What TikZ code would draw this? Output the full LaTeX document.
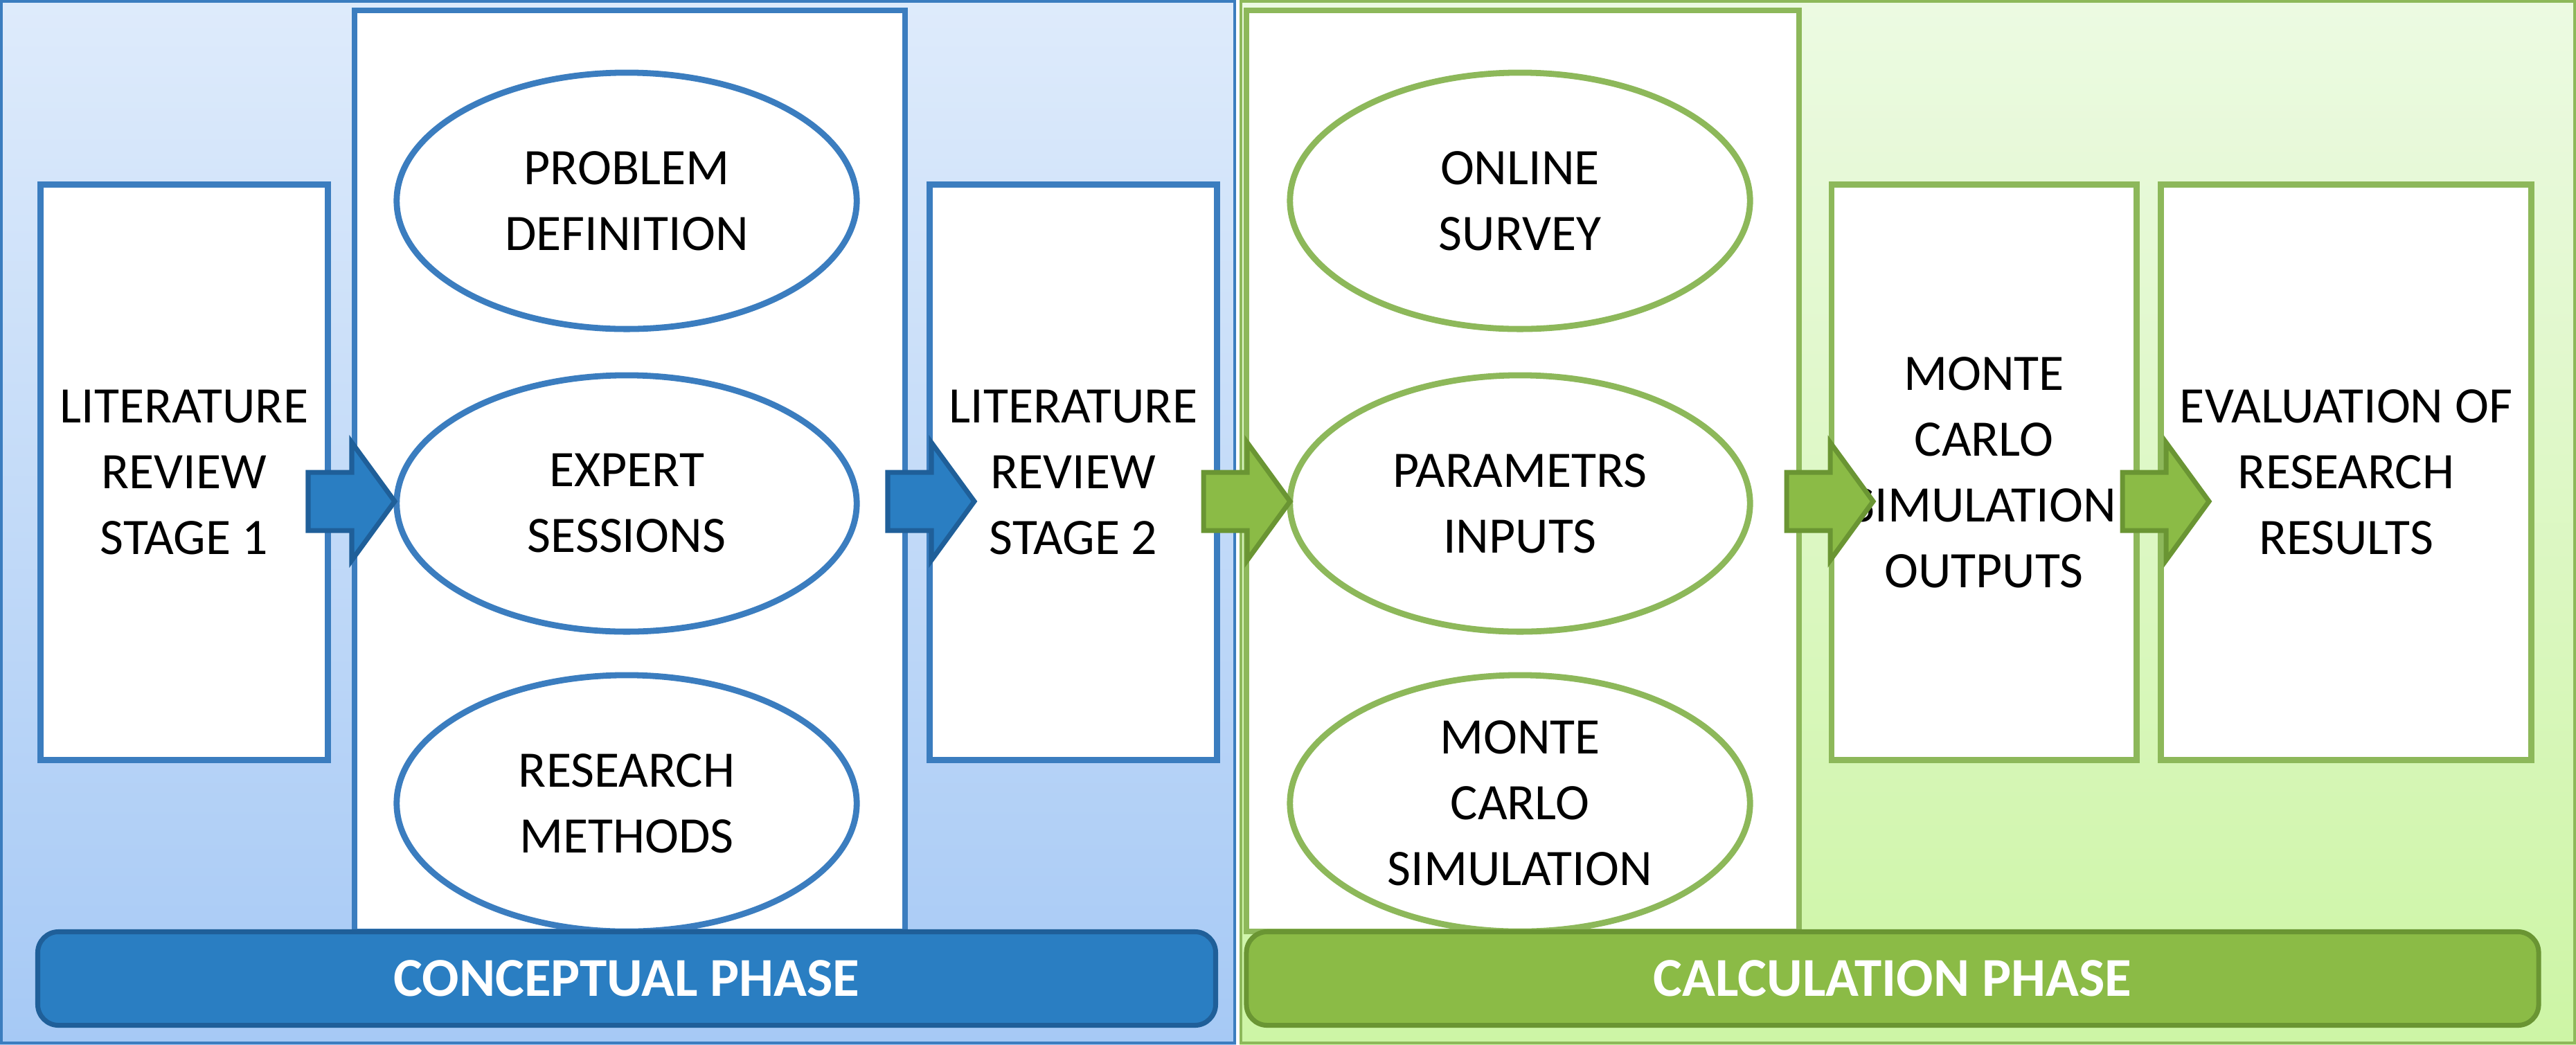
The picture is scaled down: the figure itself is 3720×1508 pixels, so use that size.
\documentclass[tikz,border=0pt]{standalone}
\usepackage{fontspec}
\setmainfont{Carlito}
\usetikzlibrary{shapes.geometric}
\definecolor{bl}{HTML}{3B7DBF}
\definecolor{blf}{HTML}{2A7EC2}
\definecolor{bld}{HTML}{1F5F99}
\definecolor{gr}{HTML}{8DB85A}
\definecolor{grf}{HTML}{8BBB46}
\definecolor{grd}{HTML}{6A9533}
\tikzset{
 txt/.style={font=\fontsize{21}{27}\selectfont,align=center,text=black},
 bbox/.style={txt,draw=bl,line width=2.5pt,fill=white,minimum width=4.15cm,minimum height=8.3cm,inner sep=0pt},
 gbox/.style={bbox,draw=gr},
 bell/.style={txt,ellipse,draw=bl,line width=2.5pt,fill=white,minimum width=6.64cm,minimum height=3.7cm,inner sep=0pt},
 gell/.style={bell,draw=gr},
 bar/.style={rounded corners=0.3cm,line width=2pt,font=\bfseries\fontsize{22.5}{27}\selectfont,text=white,minimum height=1.35cm,inner sep=0pt},
}
% block arrow with tail at coordinate named #1
\newcommand{\blockarrow}[3]{%
  \coordinate (#1) at (#2);
  \draw[#3,line width=2pt] ([shift={(0,-42)}]#1) -- ++(63,0) -- ++(0,-43) -- ([shift={(125,0)}]#1)
     -- ([shift={(63,85)}]#1) -- ++(0,-43) -- ([shift={(0,42)}]#1) -- cycle;}
\begin{document}
\begin{tikzpicture}[x=0.01cm,y=-0.01cm]
\useasboundingbox (0,0) rectangle (3720,1508);
\shade[top color={rgb,255:red,222;green,235;blue,251},bottom color={rgb,255:red,166;green,201;blue,245}] (0,0) rectangle (1785,1508);
\shade[top color={rgb,255:red,236;green,250;blue,226},bottom color={rgb,255:red,205;green,245;blue,165}] (1790,0) rectangle (3720,1508);
\draw[bl,line width=1pt] (2,2) rectangle (1783,1506);
\draw[gr,line width=1pt] (1792,2) rectangle (3718,1506);
\draw[bl,line width=2.5pt,fill=white] (512,15) rectangle (1307,1345);
\draw[gr,line width=2.5pt,fill=white] (1800,15) rectangle (2598,1345);
\node[bbox] (l1) at (266,682) {LITERATURE\\REVIEW\\STAGE 1};
\node[bbox] (l2) at (1550,682) {LITERATURE\\REVIEW\\STAGE 2};
\node[gbox,minimum width=4.4cm] (mc) at (2865,682) {MONTE\\CARLO\\SIMULATION\\OUTPUTS};
\node[gbox,minimum width=5.35cm] (ev) at (3388,682) {EVALUATION OF\\RESEARCH\\RESULTS};
\node[bell] (e1) at (905,290) {PROBLEM\\DEFINITION};
\node[bell] (e2) at (905,727) {EXPERT\\SESSIONS};
\node[bell] (e3) at (905,1160) {RESEARCH\\METHODS};
\node[gell] (g1) at (2195,290) {ONLINE\\SURVEY};
\node[gell] (g2) at (2195,727) {PARAMETRS\\INPUTS};
\node[gell] (g3) at (2195,1160) {MONTE\\CARLO\\SIMULATION};
\blockarrow{a1}{445,724}{fill=blf,draw=bld}
\blockarrow{a2}{1282,724}{fill=blf,draw=bld}
\blockarrow{a3}{1738,724}{fill=grf,draw=grd}
\blockarrow{a4}{2580,724}{fill=grf,draw=grd}
\blockarrow{a5}{3065,724}{fill=grf,draw=grd}
\node[bar,fill=blf,draw=bld,minimum width=17cm] (cp) at (905,1413) {CONCEPTUAL PHASE};
\node[bar,fill=grf,draw=grd,minimum width=18.65cm] (calc) at (2733,1413) {CALCULATION PHASE};
\end{tikzpicture}
\end{document}
